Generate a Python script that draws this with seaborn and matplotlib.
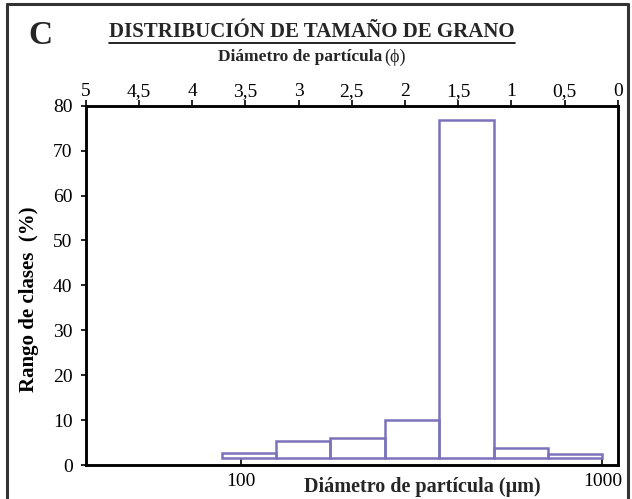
import numpy as np
import pandas as pd
import matplotlib
matplotlib.use("Agg")
import matplotlib.pyplot as plt
import seaborn as sns
from matplotlib.lines import Line2D
from matplotlib.ticker import FixedLocator, FixedFormatter, NullLocator

# ---- data ----
bin_edges_um = [88.4, 125.0, 176.8, 250.0, 353.6, 500.0, 707.1, 1000.0]
class_pct = [2.6, 5.4, 6.1, 10.0, 76.8, 3.8, 2.4]
bar_base = 1.6
y_ticks = [0, 10, 20, 30, 40, 50, 60, 70, 80]
bottom_ticks = [100, 1000]
bottom_labels = ["100", "1000"]
phi_ticks = [5, 4.5, 4, 3.5, 3, 2.5, 2, 1.5, 1, 0.5, 0]
phi_labels = ["5", "4,5", "4", "3,5", "3", "2,5", "2", "1,5", "1", "0,5", "0"]
x_limits_um = (37.2, 1103.0)
phi_limits = (5, 0)

sns.set_theme(style="white")
plt.rcParams['font.family'] = ['Liberation Serif', 'DejaVu Serif']

W, H = 632, 499
fig = plt.figure(figsize=(W / 100, H / 100), dpi=100)
fig.patch.set_facecolor("white")

L, R, T, B = 85.7, 617.7, 105.7, 465.0
ax = fig.add_axes([L / W, 1 - B / H, (R - L) / W, (B - T) / H])

edges = np.array(bin_edges_um)
centers = np.sqrt(edges[:-1] * edges[1:])
df = pd.DataFrame({"d": centers, "pct": class_pct})

bar_color = "#7a73bb"
sns.histplot(data=df, x="d", weights="pct", bins=[float(v) for v in np.log10(edges)],
             log_scale=True, fill=False, element="bars", color=bar_color,
             linewidth=1.8, ax=ax)
for patch, h in zip(ax.patches, class_pct):
    patch.set_y(bar_base)
    patch.set_height(h - bar_base)

ax.set_xlim(*x_limits_um)
ax.set_ylim(0, 80)
ax.set_xlabel("")
ax.set_ylabel("")

for s in ax.spines.values():
    s.set_visible(True)
    s.set_color("black")
    s.set_linewidth(1.8)

ax.set_yticks(y_ticks)
ax.tick_params(axis="y", left=True, direction="out", length=3.5, width=1.2,
               color="black", labelsize=14, pad=6, labelcolor="black")
ax.xaxis.set_major_locator(FixedLocator(bottom_ticks))
ax.xaxis.set_major_formatter(FixedFormatter(bottom_labels))
ax.xaxis.set_minor_locator(NullLocator())
ax.tick_params(axis="x", bottom=True, direction="in", length=5, width=1.2,
               color="black", labelsize=14, pad=6, labelcolor="black")

ax2 = ax.twiny()
ax2.set_xlim(*phi_limits)
ax2.xaxis.set_major_locator(FixedLocator(phi_ticks))
ax2.xaxis.set_major_formatter(FixedFormatter(phi_labels))
ax2.xaxis.set_minor_locator(NullLocator())
ax2.tick_params(axis="x", top=True, bottom=False, direction="out", length=4,
                width=1.2, color="black", labelsize=14, pad=0, labelcolor="black")
for s in ax2.spines.values():
    s.set_color("black")
    s.set_linewidth(1.8)

ax.set_ylabel("Rango de clases  (%)", fontsize=15, fontweight="bold", color="black")
ax.yaxis.set_label_coords((39 - L) / (R - L), (B - 299) / (B - T))

# texts
fig.text(40 / W, 1 - 35 / H, "C", fontsize=24, fontweight="bold", ha="center", va="center")
title = fig.text(312 / W, 1 - 32 / H, "DISTRIBUCIÓN DE TAMAÑO DE GRANO", fontsize=15,
                 fontweight="bold", ha="center", va="center")
sub1 = fig.text(382 / W, 1 - 57 / H, "Diámetro de partícula", fontsize=12.5,
                fontweight="bold", ha="right", va="center")
sub2 = fig.text(384 / W, 1 - 57 / H, "(ϕ)", fontsize=13, ha="left", va="center")
fig.text(422 / W, 1 - 487 / H, "Diámetro de partícula (μm)", fontsize=14.5,
         fontweight="bold", ha="center", va="center")

fig.canvas.draw()
bb = title.get_window_extent(fig.canvas.get_renderer())
yl = (bb.y0 - 0.5) / H
fig.add_artist(Line2D([bb.x0 / W, bb.x1 / W], [yl, yl], color="black", lw=1.2,
                      transform=fig.transFigure))

# outer frame (left, top, right)
fc = "#333333"
fig.add_artist(Line2D([6.5 / W, 6.5 / W], [0, 1 - 4 / H], color=fc, lw=2.2, transform=fig.transFigure))
fig.add_artist(Line2D([6.5 / W, 628 / W], [1 - 4 / H, 1 - 4 / H], color=fc, lw=2.2, transform=fig.transFigure))
fig.add_artist(Line2D([628 / W, 628 / W], [0, 1 - 4 / H], color=fc, lw=2.2, transform=fig.transFigure))

fig.savefig("out.png", dpi=100)
